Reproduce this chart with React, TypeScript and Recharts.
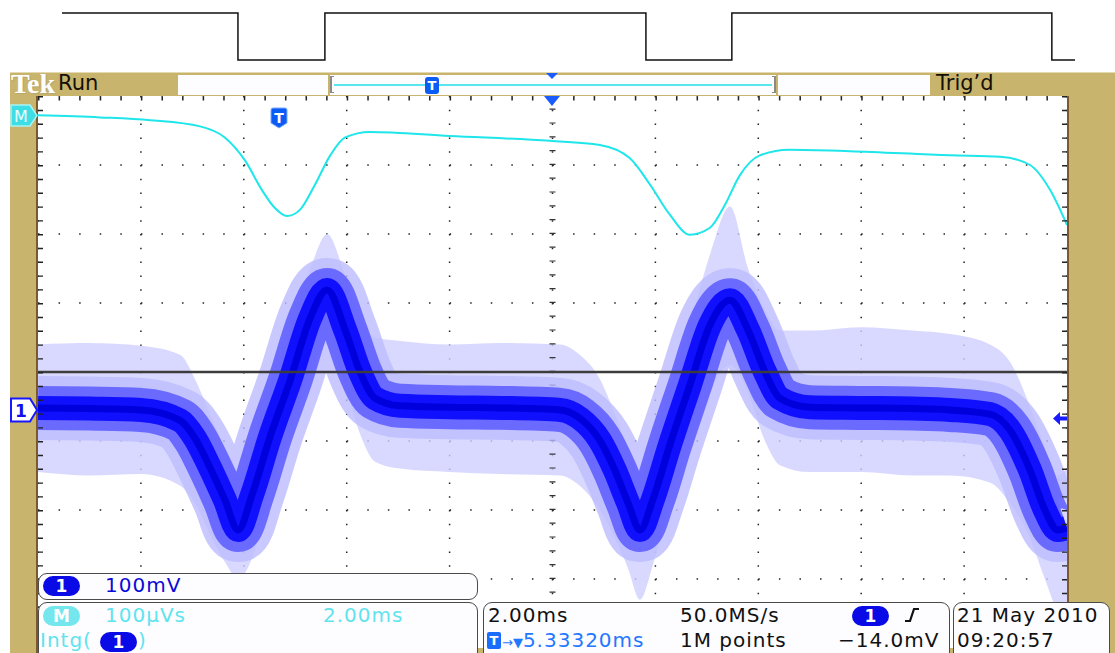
import { Area, CartesianGrid, ComposedChart, Line, LineChart, ReferenceLine, XAxis, YAxis } from 'recharts'

// Time axis: ms from the left edge of the graticule (10 div x 2.00 ms).
// Vertical: mV in screen units (100 mV/div), 0 = centre graticule line.
const CH1_TIME_MS = [0, 1, 2, 2.76, 3.05, 3.34, 3.63, 3.89, 4.16, 4.51, 4.9, 5.29, 5.62, 5.97, 6.26, 6.55, 7.04, 8, 9, 10.15, 10.53, 10.92, 11.21, 11.47, 11.7, 11.95, 12.28, 12.67, 13.06, 13.45, 13.8, 14.13, 14.42, 15.0, 16, 17, 17.73, 18.5, 18.89, 19.28, 19.57, 19.82, 20]
const CH1_MV = [-52, -53, -55, -70, -96, -138, -185, -229, -178, -94, -12, 78, 119, 61, 0, -38, -49, -51, -52, -55, -67, -99, -142, -190, -229, -185, -106, -19, 68, 104, 61, 0, -38, -51, -52, -53, -55, -61, -84, -142, -200, -229, -226]
// extent of the noise (light persistence) around channel 1
const CH1_NOISE_HI = [40, 42, 38, 25, -10, -60, -110, -150, -100, -20, 70, 150, 200, 140, 80, 50, 45, 40, 42, 40, 25, -10, -60, -110, -150, -100, -20, 70, 170, 240, 150, 90, 60, 60, 65, 60, 55, 40, 15, -50, -110, -150, -140]
const CH1_NOISE_LO = [-145, -150, -148, -165, -190, -235, -275, -300, -270, -170, -90, 0, 40, -20, -90, -130, -140, -145, -148, -150, -165, -200, -240, -285, -330, -280, -190, -110, -30, 10, -30, -100, -135, -145, -145, -150, -150, -160, -190, -240, -300, -340, -340]

// Math trace: Intg(1), 100 µVs/div
const MATH_TIME_MS = [0, 1.2, 2.18, 3.15, 3.63, 4.02, 4.35, 4.6, 4.84, 5.09, 5.38, 5.68, 5.97, 6.45, 8.0, 9.95, 10.92, 11.5, 11.9, 12.28, 12.67, 13.06, 13.35, 13.64, 14.03, 14.6, 15.78, 17.73, 18.7, 19.28, 19.67, 20]
const MATH_MV = [372, 369, 365, 356, 340, 307, 264, 238, 226, 235, 271, 314, 340, 348, 342, 335, 329, 310, 271, 228, 199, 209, 242, 285, 314, 322, 320, 314, 312, 300, 264, 213]

// Reference gate signal drawn above the scope screen
const GATE_TIME_MS = [0.47, 3.89, 5.58, 11.82, 13.49, 19.71, 20.16]
const GATE_LEVEL = [1, 0, 1, 0, 1, 0, 0]

const X_TICKS = [0, 2, 4, 6, 8, 10, 12, 14, 16, 18, 20]
const Y_TICKS = [-400, -300, -200, -100, 0, 100, 200, 300, 400]

const ch1Data = CH1_TIME_MS.map((t, i) => ({ t, v: CH1_MV[i], lo: CH1_NOISE_LO[i], hi: CH1_NOISE_HI[i] }))
const mathData = MATH_TIME_MS.map((t, i) => ({ t, v: MATH_MV[i] }))
const gateData = GATE_TIME_MS.map((t, i) => ({ t, v: GATE_LEVEL[i] }))

const KHAKI = '#c8b46c'
const BROWN = '#7a5a2c'
const CYAN = '#1ee6ea'
const TEK_FONT = '"DejaVu Sans", sans-serif'

const ch1Layers = [
  { width: 64, color: '#bcbcff', opacity: 0.8 },
  { width: 44, color: '#5a5aff', opacity: 0.85 },
  { width: 24, color: '#1010ff', opacity: 1 },
  { width: 7, color: '#0000dc', opacity: 1 }
]

function Readout({ x, y, color, children }: { x: number, y: number, color: string, children: any }) {
  return (
    <div style={{ position: 'absolute', left: x, top: y, color, fontFamily: TEK_FONT, fontSize: 20, lineHeight: '24px', letterSpacing: 1, whiteSpace: 'nowrap' }}>
      {children}
    </div>
  )
}

function Pill({ x, y, bg, label }: { x: number, y: number, bg: string, label: string }) {
  return (
    <div style={{ position: 'absolute', left: x, top: y, width: 37, height: 20, borderRadius: 10, background: bg, color: '#fff', fontFamily: TEK_FONT, fontSize: 17, fontWeight: 'bold', lineHeight: '20px', textAlign: 'center' }}>
      {label}
    </div>
  )
}

function Box({ x, y, w, h }: { x: number, y: number, w: number, h: number }) {
  return (
    <div style={{ position: 'absolute', left: x, top: y, width: w, height: h, boxSizing: 'border-box', border: '1.5px solid #4a4a4a', borderRadius: 9, background: '#fdfcff' }} />
  )
}

function GateStrip() {
  return (
    <div style={{ position: 'absolute', left: 0, top: 0 }}>
      <LineChart width={1115} height={72} data={gateData} margin={{ top: 13, right: 40, bottom: 12, left: 62 }}>
        <XAxis dataKey='t' type='number' domain={[0.47, 20.16]} hide />
        <YAxis type='number' domain={[0, 1]} hide />
        <Line type='stepAfter' dataKey='v' stroke='#111' strokeWidth={1.5} dot={false} isAnimationActive={false} />
      </LineChart>
    </div>
  )
}

function ScopeOverlay() {
  return (
    <svg width={1115} height={653} style={{ position: 'absolute', left: 0, top: 0, pointerEvents: 'none' }}>
      {/* graticule border + edge ticks */}
      <line x1={40.5} x2={40.5} y1={96} y2={648} stroke='#222' strokeWidth={5} strokeDasharray='1.4 12.4' />
      <line x1={1064.5} x2={1064.5} y1={96} y2={648} stroke='#222' strokeWidth={5} strokeDasharray='1.4 12.4' />
      <line x1={38} x2={1067} y1={98.5} y2={98.5} stroke='#222' strokeWidth={4} strokeDasharray='1.5 19.08' />
      <rect x={37} y={95} width={1031} height={560} fill='none' stroke={BROWN} strokeWidth={2} />
      {/* math marker */}
      <path d='M11,105 H30 L37,115.5 L30,126 H11 Z' fill='#3fdde4' stroke='#a8f4f6' strokeWidth={1.5} />
      <text x={21} y={122} fill='#e8ffff' fontFamily={TEK_FONT} fontSize={16} textAnchor='middle'>M</text>
      {/* channel 1 ground marker */}
      <path d='M11,398.5 H30 L37,410 L30,421.5 H11 Z' fill='#fff' stroke='#1818ff' strokeWidth={2} />
      <text x={21} y={417} fill='#1010ee' fontFamily={TEK_FONT} fontSize={17} fontWeight='bold' textAnchor='middle'>1</text>
      {/* trigger point markers */}
      <path d='M271,110 Q271,108 273,108 H285 Q287,108 287,110 V123 L279,128 L271,123 Z' fill='#0b5cf5' stroke='#7aa8ff' strokeWidth={1} />
      <text x={279} y={123} fill='#fff' fontFamily={TEK_FONT} fontSize={14} fontWeight='bold' textAnchor='middle'>T</text>
      <path d='M544,96 H560 L552,106 Z' fill='#1a5cff' />
      {/* trigger level */}
      <path d='M1053,418.5 L1060,412 V416.5 H1067 V420.5 H1060 V425 Z' fill='#1a1aff' />
    </svg>
  )
}

function Header() {
  return (
    <div style={{ position: 'absolute', left: 10, top: 72, width: 1105, height: 23, background: KHAKI, borderTop: '1px solid #e4dab0' }}>
      <div style={{ position: 'absolute', left: 1, top: -5, fontFamily: '"Liberation Serif", serif', fontWeight: 'bold', fontSize: 28, color: '#fff', textShadow: '1px 1px 0 #b8a870' }}>Tek</div>
      <div style={{ position: 'absolute', left: 48, top: -2, fontFamily: TEK_FONT, fontSize: 21, color: '#141008' }}>Run</div>
      <div style={{ position: 'absolute', left: 168, top: 2, width: 150, height: 20, background: '#fdfcff' }} />
      <div style={{ position: 'absolute', left: 320, top: 2, width: 446, height: 20, background: '#fdfcff' }}>
        <div style={{ position: 'absolute', left: 0, top: 1, width: 4, height: 17, borderLeft: '2px solid #8a8a8a', borderTop: '1.5px solid #8a8a8a', borderBottom: '1.5px solid #8a8a8a', boxSizing: 'border-box' }} />
        <div style={{ position: 'absolute', right: 0, top: 1, width: 4, height: 17, borderRight: '2px solid #8a8a8a', borderTop: '1.5px solid #8a8a8a', borderBottom: '1.5px solid #8a8a8a', boxSizing: 'border-box' }} />
        <div style={{ position: 'absolute', left: 4, top: 9, width: 438, height: 2, background: '#58e6f0' }} />
        <div style={{ position: 'absolute', left: 95, top: 2, width: 14, height: 17, borderRadius: 3, background: '#0b5cf5', color: '#fff', fontFamily: TEK_FONT, fontSize: 13, fontWeight: 'bold', lineHeight: '17px', textAlign: 'center' }}>T</div>
      </div>
      <svg width={12} height={6} style={{ position: 'absolute', left: 536, top: 0 }}>
        <path d='M0,0 H12 L6,6 Z' fill='#1a5cff' />
      </svg>
      <div style={{ position: 'absolute', left: 768, top: 2, width: 152, height: 20, background: '#fdfcff' }} />
      <div style={{ position: 'absolute', left: 926, top: -2, fontFamily: TEK_FONT, fontSize: 21, color: '#141008' }}>Trig’d</div>
    </div>
  )
}

export default function App() {
  return (
    <div style={{ position: 'fixed', left: 0, top: 0, width: 1115, height: 653, background: '#fff', overflow: 'hidden' }}>
      <GateStrip />
      <div style={{ position: 'absolute', left: 10, top: 72, width: 1105, height: 581, background: KHAKI }} />
      <div style={{ position: 'absolute', left: 0, top: 72 }}>
        <ComposedChart width={1115} height={581} margin={{ top: 24, right: 48, bottom: 5, left: 38 }}>
          <XAxis dataKey='t' type='number' domain={[0, 20]} ticks={X_TICKS} allowDataOverflow hide />
          <YAxis type='number' domain={[-400, 400]} ticks={Y_TICKS} allowDataOverflow hide />
          <CartesianGrid vertical={false} fill='#fff' stroke='#222' strokeWidth={1.5} strokeDasharray='1.5 19.08' />
          <CartesianGrid horizontal={false} stroke='#222' strokeWidth={1.5} strokeDasharray='1.5 12.3' />
          <ReferenceLine x={10} stroke='#333' strokeWidth={6} strokeDasharray='1.2 12.6' />
          <Area
            data={ch1Data}
            dataKey={(d: { lo: number, hi: number }) => [d.lo, d.hi]}
            type='monotone'
            stroke='none'
            fill='#d0d0ff'
            fillOpacity={0.8}
            activeDot={false}
            isAnimationActive={false}
          />
          {ch1Layers.map((layer, i) => (
            <Line
              key={`ch1-${i}`}
              data={ch1Data}
              dataKey='v'
              type='monotone'
              stroke={layer.color}
              strokeOpacity={layer.opacity}
              strokeWidth={layer.width}
              strokeLinejoin='round'
              dot={false}
              activeDot={false}
              isAnimationActive={false}
            />
          ))}
          <ReferenceLine y={0} stroke='#3c3c3c' strokeWidth={2.5} />
          <Line data={mathData} dataKey='v' type='monotone' stroke={CYAN} strokeWidth={2} dot={false} activeDot={false} isAnimationActive={false} />
        </ComposedChart>
      </div>
      <ScopeOverlay />
      <Header />

      <Box x={38} y={573} w={440} h={27} />
      <Pill x={43} y={576} bg='#0a0ae6' label='1' />
      <Readout x={105} y={573} color='#0a0ad8'>100mV</Readout>

      <Box x={38} y={602} w={440} h={60} />
      <Pill x={43} y={606} bg='#74e6ee' label='M' />
      <Readout x={105} y={603} color='#5fe4ee'>100µVs</Readout>
      <Readout x={323} y={603} color='#5fe4ee'>2.00ms</Readout>
      <Readout x={40} y={628} color='#5fe4ee'>Intg(</Readout>
      <Pill x={100} y={632} bg='#0a0ae6' label='1' />
      <Readout x={138} y={628} color='#5fe4ee'>)</Readout>

      <Box x={483} y={602} w={467} h={60} />
      <Readout x={488} y={603} color='#111'>2.00ms</Readout>
      <Readout x={680} y={603} color='#111'>50.0MS/s</Readout>
      <Pill x={852} y={606} bg='#0a0ae6' label='1' />
      <svg width={16} height={18} style={{ position: 'absolute', left: 904, top: 606 }}>
        <path d='M1,15 H6 L10,3 H15' fill='none' stroke='#111' strokeWidth={2.2} />
      </svg>
      <div style={{ position: 'absolute', left: 487, top: 632, width: 14, height: 17, borderRadius: 2, background: '#1a6cff', color: '#fff', fontFamily: TEK_FONT, fontSize: 13, fontWeight: 'bold', lineHeight: '17px', textAlign: 'center' }}>T</div>
      <Readout x={502} y={628} color='#1f78ff'><span style={{ fontSize: 13, letterSpacing: 0 }}>→▼</span>5.33320ms</Readout>
      <Readout x={680} y={628} color='#111'>1M points</Readout>
      <Readout x={838} y={628} color='#111'>−14.0mV</Readout>

      <Box x={953} y={602} w={157} h={60} />
      <Readout x={957} y={603} color='#111'>21 May 2010</Readout>
      <Readout x={957} y={628} color='#111'>09:20:57</Readout>
    </div>
  )
}
